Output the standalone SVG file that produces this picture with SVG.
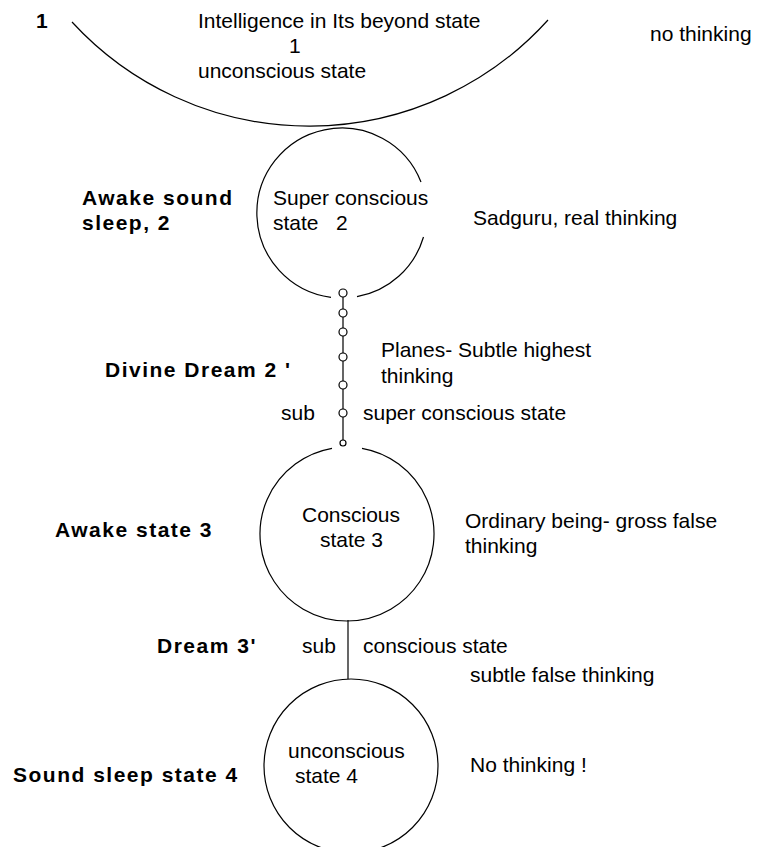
<svg xmlns="http://www.w3.org/2000/svg" width="757" height="847" viewBox="0 0 757 847">
<style>
.t{font-family:"Liberation Sans",Arial,sans-serif;font-size:21px;fill:#000}
.b{font-family:"Liberation Sans",Arial,sans-serif;font-size:21px;font-weight:bold;letter-spacing:1.5px;fill:#000}
.s{fill:none;stroke:#000;stroke-width:1.2}
</style>
<rect width="757" height="847" fill="#fff"/>
<g id="state1">
<path class="s" d="M72,22 A322,322 0 0 0 548,20"/>
<text class="t" x="198" y="28">Intelligence in Its beyond state</text>
<text class="t" x="289" y="53">1</text>
<text class="t" x="198" y="78">unconscious state</text>
</g>
<g id="state2">
<path class="s" d="M421,182 A85,85 0 1 0 331,297.3 M357,296.7 A85,85 0 0 0 423.5,237"/>
<text class="t" x="273" y="205">Super conscious</text>
<text class="t" x="273" y="230" xml:space="preserve">state   2</text>
</g>
<g id="state3">
<path class="s" d="M362,448.3 A87,87 0 1 1 332,448.3"/>
<text class="t" x="302" y="522">Conscious</text>
<text class="t" x="320" y="547">state 3</text>
</g>
<g id="state4">
<circle class="s" cx="351" cy="766" r="87"/>
<text class="t" x="288" y="758">unconscious</text>
<text class="t" x="295" y="783">state 4</text>
</g>
<g id="connectors">
<path class="s" d="M343,297 V309 M343,317 V328 M343,336 V353 M343,361 V381 M343,389 V409 M343,417 V440"/>
<circle class="s" cx="343" cy="293" r="4"/>
<circle class="s" cx="343" cy="313" r="4"/>
<circle class="s" cx="343" cy="332" r="4"/>
<circle class="s" cx="343" cy="357" r="4"/>
<circle class="s" cx="343" cy="385" r="4"/>
<circle class="s" cx="343" cy="413" r="4"/>
<circle class="s" cx="343" cy="443" r="3"/>
<path class="s" d="M348,620 V679"/>
</g>
<g id="labels">
<text class="b" x="36" y="28">1</text>
<text class="t" x="650" y="41">no thinking</text>
<text class="b" x="82" y="205">Awake sound</text>
<text class="b" x="82" y="230">sleep, 2</text>
<text class="t" x="473" y="225">Sadguru, real thinking</text>
<text class="t" x="381" y="357">Planes- Subtle highest</text>
<text class="t" x="381" y="383">thinking</text>
<text class="b" x="105" y="377">Divine Dream 2 '</text>
<text class="t" x="281" y="420">sub</text>
<text class="t" x="363" y="420">super conscious state</text>
<text class="b" x="55" y="537">Awake state 3</text>
<text class="t" x="465" y="528">Ordinary being- gross false</text>
<text class="t" x="465" y="553">thinking</text>
<text class="b" x="157" y="653">Dream 3'</text>
<text class="t" x="302" y="653">sub</text>
<text class="t" x="363" y="653">conscious state</text>
<text class="t" x="470" y="682">subtle false thinking</text>
<text class="t" x="470" y="772">No thinking !</text>
<text class="b" x="13" y="782">Sound sleep state 4</text>
</g>
</svg>
